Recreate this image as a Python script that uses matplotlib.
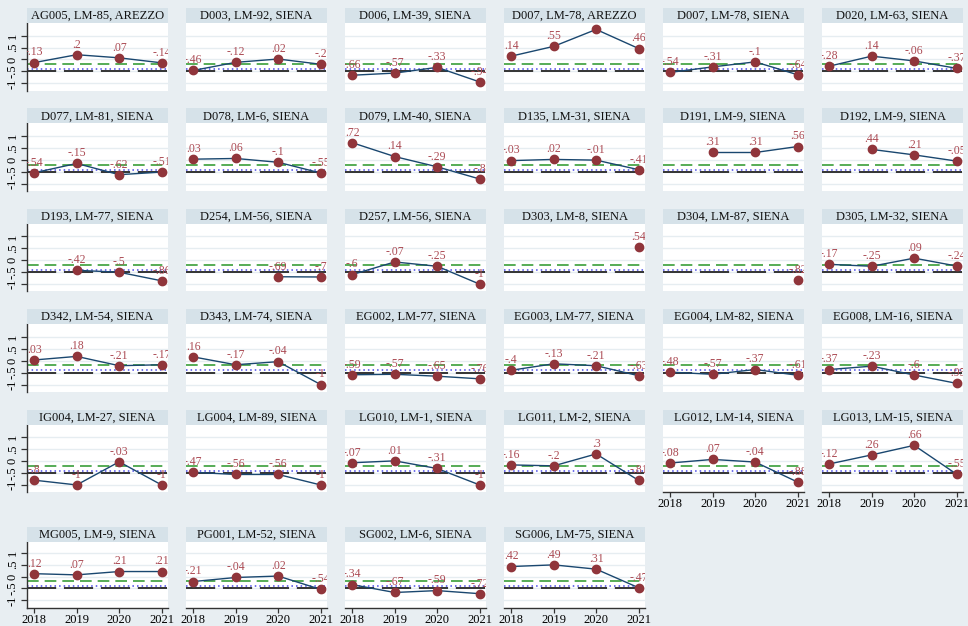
import numpy as np
import matplotlib
matplotlib.use("Agg")
import matplotlib.pyplot as plt
from matplotlib.patches import Rectangle

# ---------------------------------------------------------------------
# datos
# ---------------------------------------------------------------------
anios = [2018, 2019, 2020, 2021]

titulos = [
    "AG005, LM-85, AREZZO", "D003, LM-92, SIENA", "D006, LM-39, SIENA",
    "D007, LM-78, AREZZO", "D007, LM-78, SIENA", "D020, LM-63, SIENA",
    "D077, LM-81, SIENA", "D078, LM-6, SIENA", "D079, LM-40, SIENA",
    "D135, LM-31, SIENA", "D191, LM-9, SIENA", "D192, LM-9, SIENA",
    "D193, LM-77, SIENA", "D254, LM-56, SIENA", "D257, LM-56, SIENA",
    "D303, LM-8, SIENA", "D304, LM-87, SIENA", "D305, LM-32, SIENA",
    "D342, LM-54, SIENA", "D343, LM-74, SIENA", "EG002, LM-77, SIENA",
    "EG003, LM-77, SIENA", "EG004, LM-82, SIENA", "EG008, LM-16, SIENA",
    "IG004, LM-27, SIENA", "LG004, LM-89, SIENA", "LG010, LM-1, SIENA",
    "LG011, LM-2, SIENA", "LG012, LM-14, SIENA", "LG013, LM-15, SIENA",
    "MG005, LM-9, SIENA", "PG001, LM-52, SIENA", "SG002, LM-6, SIENA",
    "SG006, LM-75, SIENA",
]

nan = np.nan
valores = [
    [-.13, .2, .07, -.14],
    [-.46, -.12, .02, -.2],
    [-.66, -.57, -.33, -.94],
    [.14, .55, 1.26, .46],
    [-.54, -.31, -.1, -.64],
    [-.28, .14, -.06, -.37],
    [-.54, -.15, -.62, -.51],
    [.03, .06, -.1, -.55],
    [.72, .14, -.29, -.8],
    [-.03, .02, -.01, -.41],
    [nan, .31, .31, .56],
    [nan, .44, .21, -.05],
    [nan, -.42, -.5, -.86],
    [nan, nan, -.69, -.7],
    [-.6, -.07, -.25, -1],
    [nan, nan, nan, .54],
    [nan, nan, nan, -.82],
    [-.17, -.25, .09, -.24],
    [.03, .18, -.21, -.17],
    [.16, -.17, -.04, -1],
    [-.59, -.57, -.65, -.76],
    [-.4, -.13, -.21, -.63],
    [-.48, -.57, -.37, -.61],
    [-.37, -.23, -.6, -.95],
    [-.8, -1, -.03, -1],
    [-.47, -.56, -.56, -1],
    [-.07, .01, -.31, -1],
    [-.16, -.2, .3, -.81],
    [-.08, .07, -.04, -.88],
    [-.12, .26, .66, -.55],
    [.12, .07, .21, .21],
    [-.21, -.04, .02, -.54],
    [-.34, -.67, -.59, -.72],
    [.42, .49, .31, -.47],
]

# lineas de referencia
ref_verde = -0.2
ref_azul = -0.41
ref_negra = -0.5

yticks = [-1, -.5, 0, .5, 1]
yticklabels = ["-1", "-.5", "0", ".5", "1"]

# ---------------------------------------------------------------------
W, H = 968, 626
FONDO = "#e8eef2"
FRANJA = "#d6e2e9"
GRILLA = "#e6edf1"
serif = ["Liberation Serif", "DejaVu Serif"]


def etiqueta(v):
    s = "{:.2f}".format(v).rstrip("0").rstrip(".")
    if s.startswith("0."):
        s = s[1:]
    elif s.startswith("-0."):
        s = "-" + s[2:]
    if s in ("-0", ""):
        s = "0"
    return s


fig = plt.figure(figsize=(W / 100, H / 100), dpi=100)
fig.patch.set_facecolor(FONDO)

ncol = 6
n = len(titulos)
ultimo_en_col = {}
for i in range(n):
    ultimo_en_col[i % ncol] = i

for i, (tit, vals) in enumerate(zip(titulos, valores)):
    fila, col = divmod(i, ncol)
    x0 = 27 + col * 159
    ancho = 141
    alto_franja = 15
    if fila < 5:
        top = 8 + fila * 100.4
        alto = 67.5
    else:
        top = 527
        alto = 65.5

    # franja del titulo
    fig.patches.append(Rectangle((x0 / W, 1 - (top + alto_franja) / H), ancho / W,
                                 alto_franja / H, transform=fig.transFigure,
                                 facecolor=FRANJA, edgecolor="none", zorder=0))
    fig.text((x0 + ancho / 2) / W, 1 - (top + alto_franja / 2 + 0.5) / H, tit,
             ha="center", va="center", fontsize=9, family=serif, color="#111111")

    ax = fig.add_axes([x0 / W, 1 - (top + alto_franja + alto) / H, ancho / W, alto / H])
    ax.set_facecolor("white")
    ax.set_xlim(2017.83, 2021.15)
    ax.set_ylim(-1.3, 1.53 if fila < 5 else 1.45)
    for yv in yticks:
        ax.axhline(yv, color=GRILLA, lw=1, zorder=0)

    ax.axhline(ref_verde, color="#3a9e3a", lw=1.2, dashes=(7, 3.6), zorder=1)
    ax.axhline(ref_negra, color="#333333", lw=1.4, dashes=(15, 4), zorder=1)
    ax.axhline(ref_azul, color="#4848e6", lw=1.1, dashes=(1, 2), zorder=1.5)

    ax.plot(anios, vals, color="#1a476f", lw=1.0, zorder=2)
    ax.plot(anios, vals, "o", color="#90353b", ms=6, zorder=3)
    for xa, v in zip(anios, vals):
        if np.isnan(v):
            continue
        ax.annotate(etiqueta(v), (xa, v), xytext=(0, 3), textcoords="offset points",
                    ha="center", va="bottom", fontsize=8.5, family=serif,
                    color="#ab4a53", clip_on=True, zorder=4)

    for s in ax.spines.values():
        s.set_visible(False)

    ax.set_yticks(yticks)
    if col == 0:
        ax.spines["left"].set_visible(True)
        ax.spines["left"].set_color("#333333")
        ax.spines["left"].set_linewidth(1.0)
        ax.set_yticklabels(yticklabels, rotation=90, va="center",
                           fontsize=9, family=serif)
        ax.tick_params(axis="y", length=4, width=0.9, color="#333333", pad=2)
    else:
        ax.tick_params(axis="y", left=False, labelleft=False)

    ax.set_xticks(anios)
    if ultimo_en_col[col] == i:
        ax.spines["bottom"].set_visible(True)
        ax.spines["bottom"].set_color("#333333")
        ax.spines["bottom"].set_linewidth(1.0)
        ax.set_xticklabels([str(a) for a in anios], fontsize=9, family=serif)
        ax.tick_params(axis="x", length=3.5, width=0.9, color="#333333", pad=1)
    else:
        ax.tick_params(axis="x", bottom=False, labelbottom=False)

fig.savefig("out.png", dpi=100, facecolor=FONDO)
